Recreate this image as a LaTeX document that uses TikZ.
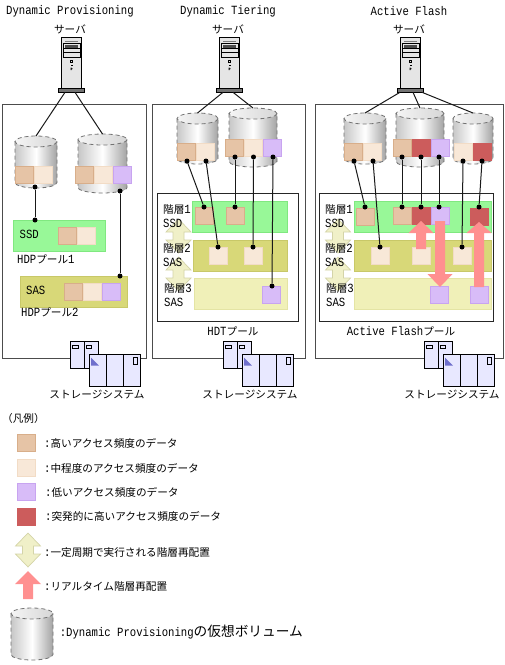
\documentclass[tikz,border=0pt]{standalone}
\usepackage{fontspec}
\setmainfont[FakeStretch=0.85]{Liberation Mono}
\newfontfamily\jp[Scale=0.85]{Noto Sans CJK JP}

\definecolor{hicol}{HTML}{E6C4A6}
\definecolor{hiedge}{HTML}{D8AE8A}
\definecolor{medcol}{HTML}{F8E8D8}
\definecolor{mededge}{HTML}{F2DCC6}
\definecolor{lowcol}{HTML}{D8BCF8}
\definecolor{lowedge}{HTML}{C8A4F0}
\definecolor{burstcol}{HTML}{CC5C5C}
\definecolor{ssdcol}{HTML}{98F898}
\definecolor{ssdedge}{HTML}{80E880}
\definecolor{sascol}{HTML}{D8D878}
\definecolor{sasedge}{HTML}{C8C868}
\definecolor{nlcol}{HTML}{F0F0B8}
\definecolor{nledge}{HTML}{E4E4A4}
\definecolor{movecol}{HTML}{F0F0C8}
\definecolor{moveedge}{HTML}{D4D4A8}
\definecolor{rtcol}{HTML}{FF9090}
\definecolor{stcol}{HTML}{E8E8FF}

\tikzset{
  txt/.style={inner sep=0pt, font=\fontsize{12.5}{14}\selectfont},
  block/.style={rectangle, anchor=north west, minimum width=18pt, minimum height=17pt,
    inner sep=0pt, outer sep=0pt, line width=1pt},
  hi/.style={block, fill=hicol, draw=hiedge},
  med/.style={block, fill=medcol, draw=mededge},
  low/.style={block, fill=lowcol, draw=lowedge},
  burst/.style={block, fill=burstcol, draw=burstcol},
  dot/.style={circle, fill=black, inner sep=0pt, minimum size=5pt},
  link/.style={line width=1pt, black!90},
  frame/.style={draw=black!70, line width=1pt, fill=white},
  volline/.style={line width=0.8pt, dash pattern=on 4pt off 3pt},
  rtmove/.style={fill=rtcol},
  server/.pic={
    \draw[fill=black!10, line width=0.9pt] (-10,37) rectangle (10.5,88);
    \draw[black!50, line width=0.8pt] (-6,41) -- (7,41);
    \draw[line width=0.7pt] (-8,43.5) rectangle (9,57) (-8,48.5) -- (9,48.5) (-8,52.5) -- (9,52.5);
    \fill[black!70] (-6,45) rectangle (7,47.5);
    \draw[line width=0.5pt] (-0.5,60.5) rectangle (1.5,62.5);
    \fill (-0.5,64.5) rectangle (1.5,66);
    \fill (-0.5,67.5) rectangle (0.5,70) (0.5,68.3) rectangle (1.5,69);
    \node[rectangle, draw=black, fill=black!55, line width=0.8pt, minimum width=26pt,
      minimum height=4pt, inner sep=0pt, outer sep=0pt] (base) at (0,90.3) {};
  },
  storage/.pic={
    \draw[fill=stcol, line width=0.9pt] (0,0) rectangle (28,27) (14,0) -- (14,27);
    \draw[line width=0.6pt] (2.5,4) rectangle (8,6.5) (16,4) rectangle (21.5,6.5);
    \draw[fill=stcol, line width=0.9pt] (19,13) rectangle (70.5,44.5)
      (36.5,13) -- (36.5,44.5) (53.5,13) -- (53.5,44.5);
    \fill[blue!40!stcol!80!black] (21,16) -- (29,24) -- (21,24) -- cycle;
    \draw[line width=0.8pt] (63,16) rectangle (67,22.5);
  },
  updown/.pic={
    \draw[fill=movecol, draw=moveedge, line width=0.7pt] (0,0) -- (12.5,13) -- (5.5,13) -- (5.5,21)
      -- (12.5,21) -- (0,34) -- (-12.5,21) -- (-5.5,21) -- (-5.5,13) -- (-12.5,13) -- cycle;
  },
}

% cylinder: name, left, right, top, bottom
\newcommand{\volume}[5]{
  \pgfmathsetmacro{\cx}{(#2+#3)/2}
  \pgfmathsetmacro{\rx}{(#3-#2)/2}
  \shade[left color=black!22, right color=black!36, middle color=white]
    (#2,#4+5.5) -- (#2,#5-5.5) arc[start angle=180, end angle=0, x radius=\rx, y radius=5.5] -- (#3,#4+5.5) -- cycle;
  \shade[left color=black!4, right color=black!16] (\cx,#4+5.5) ellipse[x radius=\rx, y radius=5.5];
  \draw[volline, black!55] (#2,#4+5.5) -- (#2,#5-5.5) arc[start angle=180, end angle=0, x radius=\rx, y radius=5.5] -- (#3,#4+5.5);
  \draw[volline, black!55] (\cx,#4+5.5) ellipse[x radius=\rx, y radius=5.5];
  \coordinate (#1) at (\cx,#4);
}

\begin{document}
\begin{tikzpicture}[x=1pt, y=-1pt]
  \useasboundingbox (0,0) rectangle (505,665);

  % ---- frames ----------------------------------------------------------------
  \draw[frame] (2.5,104.5) rectangle (146.5,358);
  \draw[frame] (152,104.5) rectangle (305,358);
  \draw[frame] (315,104) rectangle (503,358);

  % ---- titles ----------------------------------------------------------------
  \node[txt] (title1) at (70,11) {Dynamic Provisioning};
  \node[txt] (title2) at (228,11) {Dynamic Tiering};
  \node[txt] (title3) at (409,11) {Active Flash};

  % ---- servers ---------------------------------------------------------------
  \foreach \n/\x in {1/71,2/229,3/410} {
    \node[txt] (srvlabel\n) at (\x-1,29.5) {\jp サーバ};
    \pic (srv\n) at (\x,0) {server};
  }

  % ---- virtual volumes -------------------------------------------------------
  \volume{vol1a}{15}{57}{136}{188}
  \volume{vol1b}{78}{127}{134}{193}
  \volume{vol2a}{177}{218}{113}{164}
  \volume{vol2b}{229}{277}{108}{167}
  \volume{vol3a}{344}{386}{113}{164}
  \volume{vol3b}{396}{444}{108}{167}
  \volume{vol3c}{453}{493}{113}{164}

  \draw[link] ([xshift=-6pt]srv1base.south) -- (vol1a);
  \draw[link] ([xshift=4pt]srv1base.south) -- (vol1b);
  \draw[link] ([xshift=-6pt]srv2base.south) -- (vol2a);
  \draw[link] ([xshift=4pt]srv2base.south) -- (vol2b);
  \draw[link] ([xshift=-10pt]srv3base.south) -- (vol3a);
  \draw[link] ([xshift=3pt]srv3base.south) -- (vol3b);
  \draw[link] ([xshift=12pt]srv3base.south) -- (vol3c);

  % ---- pools -----------------------------------------------------------------
  \draw[frame, draw=black!85] (157,193) rectangle (298,321);
  \draw[frame, draw=black!85] (319,193) rectangle (493,321);

  \foreach \x/\w in {178.5/a,338/b} {
    \pic (movetop\w) at (\x,219) {updown};
    \pic (movelow\w) at (\x,257) {updown};
  }

  \draw[fill=ssdcol, draw=ssdedge] (13.5,220.5) rectangle (105,251);
  \draw[fill=sascol, draw=sasedge] (20.5,276.5) rectangle (127,307);
  \draw[fill=ssdcol, draw=ssdedge] (192.5,201.5) rectangle (287,232);
  \draw[fill=sascol, draw=sasedge] (193.5,240.5) rectangle (287,271);
  \draw[fill=nlcol, draw=nledge] (194.5,278.5) rectangle (287,309);
  \draw[fill=ssdcol, draw=ssdedge] (354.5,201.5) rectangle (491,232);
  \draw[fill=sascol, draw=sasedge] (354.5,240.5) rectangle (491,271);
  \draw[fill=nlcol, draw=nledge] (354.5,278.5) rectangle (491,309);

  % ---- labels ----------------------------------------------------------------
  \node[txt, anchor=west] (ssdlabel) at (19.5,234.5) {SSD};
  \node[txt, anchor=west] (saslabel) at (26,290.5) {SAS};
  \node[txt, anchor=west] (pool1) at (17,259) {HDP{\jp プール}1};
  \node[txt, anchor=west] (pool2) at (21,312) {HDP{\jp プール}2};
  \node[txt] (pool3) at (233,331) {HDT{\jp プール}};
  \node[txt] (pool4) at (401,331) {Active Flash{\jp プール}};
  \foreach \x/\w in {163/a,325/b} {
    \node[txt, anchor=west] (tier1\w) at (\x,210) {{\jp 階層}1};
    \node[txt, anchor=west] (ssd1\w) at (\x,223) {SSD};
    \node[txt, anchor=west] (tier2\w) at (\x,249) {{\jp 階層}2};
    \node[txt, anchor=west] (sas2\w) at (\x,262) {SAS};
    \node[txt, anchor=west] (tier3\w) at (\x+1,289) {{\jp 階層}3};
    \node[txt, anchor=west] (sas3\w) at (\x+1,302) {SAS};
  }

  % ---- data blocks -----------------------------------------------------------
  \foreach \s/\x/\y [count=\k] in {
      hi/15/166, med/34/166, hi/75/166, med/94/166, low/113/166,
      hi/58/227, med/77/227, hi/64/283, med/83/283, low/102/283,
      hi/177/143, med/196/143, hi/225/139, med/244/139, low/263/139,
      hi/195/207, hi/226/207, med/209/247, med/244/247, low/262/286,
      hi/344/143, med/363/143, hi/393/139, burst/412/139, low/431/139,
      med/454/143, burst/473/143,
      hi/356/208, hi/393/207, burst/412/207, low/431/207, burst/470/208,
      med/371/247, med/412/247, med/453/247, low/430/286, low/470/286}
    \node[\s] (block\k) at (\x,\y) {};

  % ---- connections -----------------------------------------------------------
  \foreach \n/\xa/\ya/\xb/\yb in {
      a/35/187/35/220, b/120/191/120/276,
      c/187/161/204/207, d/206/161/218/247, e/235/157/235/207,
      f/253.5/157/253/247, g/273/157/272/286,
      h/354/161/365/207, i/373/161/380/247, j/402/157/402/207,
      k/421/157/421/207, l/439/157/439/207, m/463/161/462/247, n/482/161/479/207} {
    \node[dot] (from\n) at (\xa,\ya) {};
    \node[dot] (to\n) at (\xb,\yb) {};
    \draw[link] (from\n) -- (to\n);
  }

  % ---- real time moves -------------------------------------------------------
  \fill[rtmove] (421,221) -- (433.5,233) -- (426,233) -- (426,249) -- (416,249) -- (416,233) -- (408.5,233) -- cycle;
  \fill[rtmove] (440,287) -- (452.5,274) -- (445,274) -- (445,221) -- (435,221) -- (435,274) -- (427.5,274) -- cycle;
  \fill[rtmove] (479,222) -- (491.5,233) -- (484,233) -- (484,287) -- (474,287) -- (474,233) -- (466.5,233) -- cycle;

  % ---- storage systems -------------------------------------------------------
  \foreach \x/\c [count=\k] in {70/97,223/250,424/452} {
    \pic (st\k) at (\x,341.5) {storage};
    \node[txt] (stlabel\k) at (\c,394.5) {\jp ストレージシステム};
  }

  % ---- legend ----------------------------------------------------------------
  \node[txt, anchor=west] (legend) at (2,418) {{\jp （凡例）}};
  \node[hi] (key1) at (17,434.5) {};
  \node[med] (key2) at (17,459.5) {};
  \node[low] (key3) at (17,483.5) {};
  \node[burst] (key4) at (17,508.5) {};
  \pic (key5) at (28,533) {updown};
  \fill[rtmove] (28,571) -- (41,584) -- (33,584) -- (33,599) -- (23,599) -- (23,584) -- (15,584) -- cycle;
  \volume{key7}{11}{53}{608}{660}

  \node[txt, anchor=west] (keytext1) at (44,443) {:{\jp 高いアクセス頻度のデータ}};
  \node[txt, anchor=west] (keytext2) at (44,468) {:{\jp 中程度のアクセス頻度のデータ}};
  \node[txt, anchor=west] (keytext3) at (45,492) {:{\jp 低いアクセス頻度のデータ}};
  \node[txt, anchor=west] (keytext4) at (45,516) {:{\jp 突発的に高いアクセス頻度のデータ}};
  \node[txt, anchor=west] (keytext5) at (44,552) {:{\jp 一定周期で実行される階層再配置}};
  \node[txt, anchor=west] (keytext6) at (44,587) {:{\jp リアルタイム階層再配置}};
  \node[txt, anchor=west] (keytext7) at (59.6,632) {:Dynamic Provisioning{\jp\fontsize{16.1}{18}\selectfont の仮想ボリューム}};
\end{tikzpicture}
\end{document}
